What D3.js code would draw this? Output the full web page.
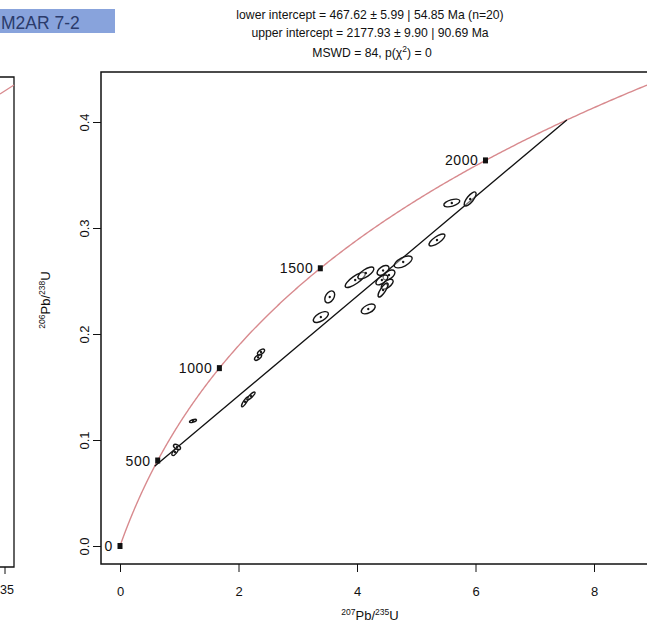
<!DOCTYPE html>
<html>
<head>
<meta charset="utf-8">
<script src="https://cdn.jsdelivr.net/npm/d3@7"></script>
<style>
  html, body { margin: 0; padding: 0; background: #fff; }
  svg { display: block; font-family: "Liberation Sans", Arial, sans-serif; }
</style>
</head>
<body>
<svg id="chart" width="647" height="632"></svg>
<script>
// U-Pb concordia diagram, sample M2AR 7-2

// Decay constants (per year)
const lambda238 = 1.55125e-10;
const lambda235 = 9.8485e-10;

// Concordia age markers (Ma) and their labels
const markerAges = [0, 500, 1000, 1500, 2000];
const markerLabels = ["0", "500", "1000", "1500", "2000"];

// Axis ticks
const xTicks = [0, 2, 4, 6, 8];
const xTickLabels = ["0", "2", "4", "6", "8"];
const yTicks = [0, 0.1, 0.2, 0.3, 0.4];
const yTickLabels = ["0.0", "0.1", "0.2", "0.3", "0.4"];

// Discordia intercept ages (Ma)
const lowerInterceptAge = 467.62;
const upperInterceptAge = 2177.93;

// Measured ratios with 1-sigma errors and error correlation
const pb207u235 = [0.928, 0.962, 1.232, 2.11, 2.21, 2.33, 2.38, 3.39, 3.54, 3.97, 4.15, 4.44, 4.54, 4.42, 4.51, 4.44, 4.19, 4.78, 5.35, 5.60, 5.91];
const pb206u238 = [0.0887, 0.0934, 0.118, 0.136, 0.1415, 0.178, 0.183, 0.216, 0.235, 0.251, 0.2575, 0.260, 0.2557, 0.251, 0.247, 0.2415, 0.2236, 0.268, 0.2887, 0.3236, 0.3274];
const err207 = [0.021, 0.024, 0.024, 0.024, 0.028, 0.024, 0.024, 0.052, 0.034, 0.069, 0.055, 0.041, 0.041, 0.041, 0.041, 0.034, 0.048, 0.062, 0.055, 0.055, 0.041];
const err206 = [0.00135, 0.0010, 0.0006, 0.0019, 0.0015, 0.00115, 0.00115, 0.0021, 0.0023, 0.0029, 0.0023, 0.0019, 0.0019, 0.0019, 0.0019, 0.0027, 0.0019, 0.0023, 0.0023, 0.0015, 0.0027];
const errRho = [0.7, -0.5, 0.6, 0.85, 0.85, 0.6, 0.6, 0.6, 0.4, 0.8, 0.7, 0.5, 0.5, 0.6, 0.6, 0.8, 0.5, 0.6, 0.75, 0.5, 0.75];

const titleLines = [
  "lower intercept = 467.62 \u00B1 5.99 | 54.85 Ma (n=20)",
  "upper intercept = 2177.93 \u00B1 9.90 | 90.69 Ma"
];

const svg = d3.select("#chart");

// Plot frame (right side runs past the page edge)
const frame = { left: 101, top: 72, right: 680, bottom: 564 };

const x = d3.scaleLinear().domain([0, 8]).range([120, 594]);
const y = d3.scaleLinear().domain([0, 0.4]).range([546, 122]);

const concX = t => Math.exp(lambda235 * t * 1e6) - 1;
const concY = t => Math.exp(lambda238 * t * 1e6) - 1;

// Neighbouring panel remnant on the left
const lp = svg.append("g");
lp.append("path").attr("d", "M0,77 H14 V567 H0").attr("fill", "none").attr("stroke", "#111").attr("stroke-width", 1.3);
lp.append("line").attr("x1", 5).attr("x2", 5).attr("y1", 567).attr("y2", 574).attr("stroke", "#111");
lp.append("text").attr("x", 14).attr("y", 594).attr("text-anchor", "end").attr("font-size", 12.5).attr("fill", "#111").text("35");
lp.append("line").attr("x1", 0).attr("y1", 94).attr("x2", 14).attr("y2", 85).attr("stroke", "#d88a8e").attr("stroke-width", 1.3);

// Sample label
svg.append("rect").attr("x", 0).attr("y", 9).attr("width", 115).attr("height", 24).attr("fill", "#88a3dc");
svg.append("text").attr("x", 1).attr("y", 29).attr("font-size", 17.5).attr("fill", "#2b3b6b").text("M2AR 7-2");

// Title
const title = svg.append("g").attr("font-size", 12.2).attr("fill", "#111").attr("text-anchor", "middle");
title.append("text").attr("x", 370).attr("y", 19).text(titleLines[0]);
title.append("text").attr("x", 370).attr("y", 37).text(titleLines[1]);
const t3 = title.append("text").attr("x", 372).attr("y", 57);
t3.append("tspan").text("MSWD = 84, p(\u03C7");
t3.append("tspan").attr("dy", -5).attr("font-size", 8.5).text("2");
t3.append("tspan").attr("dy", 5).text(") = 0");

// Clip to the plot frame
svg.append("clipPath").attr("id", "plotClip")
  .append("rect").attr("x", frame.left).attr("y", frame.top)
  .attr("width", frame.right - frame.left).attr("height", frame.bottom - frame.top);
const plot = svg.append("g").attr("clip-path", "url(#plotClip)");

// Concordia curve
const curveAges = d3.range(0, 2701, 5);
plot.append("path")
  .datum(curveAges)
  .attr("fill", "none")
  .attr("stroke", "#d88a8e")
  .attr("stroke-width", 1.4)
  .attr("d", d3.line().x(t => x(concX(t))).y(t => y(concY(t))));

// Discordia line between the intercepts
plot.append("line")
  .attr("x1", x(concX(lowerInterceptAge))).attr("y1", y(concY(lowerInterceptAge)))
  .attr("x2", x(concX(upperInterceptAge))).attr("y2", y(concY(upperInterceptAge)))
  .attr("stroke", "#111").attr("stroke-width", 1.3);

// Error ellipses (95% confidence)
const k = Math.sqrt(5.991);
const pts = pb207u235.map((v, i) => ({ x: v, y: pb206u238[i], sx: err207[i], sy: err206[i], r: errRho[i] }));
const ell = plot.append("g");
pts.forEach(p => {
  const hx = k * (x(p.sx) - x(0));
  const hy = k * (y(0) - y(p.sy));
  const a = hx * hx, c = hy * hy, b = -p.r * hx * hy;
  const mid = (a + c) / 2, d = Math.sqrt(((a - c) / 2) ** 2 + b * b);
  const rx = Math.sqrt(mid + d), ry = Math.sqrt(Math.max(mid - d, 0.3));
  const ang = 0.5 * Math.atan2(2 * b, a - c) * 180 / Math.PI;
  const g = ell.append("g").attr("transform", `translate(${x(p.x)},${y(p.y)}) rotate(${ang})`);
  g.append("ellipse").attr("rx", rx).attr("ry", ry)
    .attr("fill", "rgba(255,255,255,0.4)").attr("stroke", "#151515").attr("stroke-width", 1.4);
  g.append("circle").attr("r", 1.2).attr("fill", "#151515");
});

// Age markers on the concordia
const mk = plot.append("g");
markerAges.forEach((t, i) => {
  const px = x(concX(t)), py = y(concY(t));
  mk.append("rect").attr("x", px - 2.5).attr("y", py - 3).attr("width", 5).attr("height", 6).attr("fill", "#111");
  mk.append("text").attr("x", px - 7).attr("y", py + 5).attr("text-anchor", "end")
    .attr("font-size", 14).attr("letter-spacing", 0.6).attr("fill", "#111").text(markerLabels[i]);
});

// Frame
svg.append("rect").attr("x", frame.left).attr("y", frame.top)
  .attr("width", frame.right - frame.left).attr("height", frame.bottom - frame.top)
  .attr("fill", "none").attr("stroke", "#111").attr("stroke-width", 1.5);

// X axis
const xAxis = svg.append("g").attr("transform", `translate(0,${frame.bottom})`)
  .call(d3.axisBottom(x).tickValues(xTicks).tickFormat((d, i) => xTickLabels[i]).tickSize(8).tickPadding(15));
xAxis.select(".domain").remove();
xAxis.selectAll("line").attr("stroke", "#111");
xAxis.selectAll("text").attr("font-size", 13).attr("fill", "#111").attr("font-family", "Liberation Sans, Arial, sans-serif");

// Y axis with labels parallel to the axis
const yAxis = svg.append("g").attr("transform", `translate(${frame.left},0)`)
  .call(d3.axisLeft(y).tickValues(yTicks).tickFormat((d, i) => yTickLabels[i]).tickSize(8));
yAxis.select(".domain").remove();
yAxis.selectAll("line").attr("stroke", "#111");
yAxis.selectAll("text")
  .attr("font-size", 13).attr("fill", "#111").attr("font-family", "Liberation Sans, Arial, sans-serif")
  .attr("x", 0).attr("y", 0).attr("dy", 0)
  .attr("text-anchor", "middle")
  .attr("transform", "translate(-12,0) rotate(-90)");

// Axis titles
const xt = svg.append("text").attr("x", 370).attr("y", 620).attr("text-anchor", "middle").attr("font-size", 13).attr("fill", "#111");
xt.append("tspan").attr("font-size", 8.5).attr("dy", -5).text("207");
xt.append("tspan").attr("dy", 5).text("Pb/");
xt.append("tspan").attr("font-size", 8.5).attr("dy", -5).text("235");
xt.append("tspan").attr("dy", 5).text("U");

const yt = svg.append("text").attr("transform", "translate(50,300) rotate(-90)").attr("text-anchor", "middle").attr("font-size", 13).attr("fill", "#111");
yt.append("tspan").attr("font-size", 8.5).attr("dy", -5).text("206");
yt.append("tspan").attr("dy", 5).text("Pb/");
yt.append("tspan").attr("font-size", 8.5).attr("dy", -5).text("238");
yt.append("tspan").attr("dy", 5).text("U");
</script>
</body>
</html>
